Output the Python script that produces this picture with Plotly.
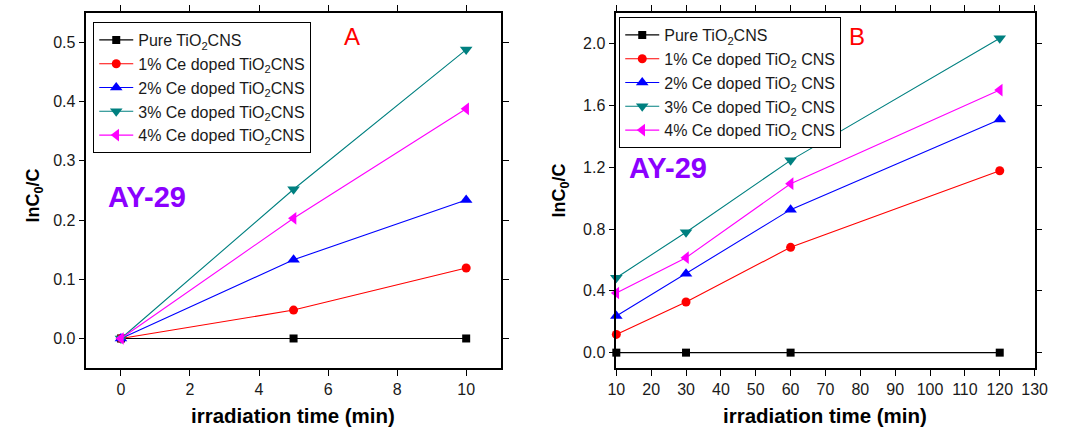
import plotly.graph_objects as go

# Panel A data
tA = [0, 5, 10]
A_pure = [0, 0, 0]
A_1 = [0, 0.048, 0.119]
A_2 = [0, 0.133, 0.234]
A_3 = [0, 0.252, 0.488]
A_4 = [0, 0.203, 0.388]

# Panel B data
tB = [10, 30, 60, 120]
B_pure = [0, 0, 0, 0]
B_1 = [0.118, 0.328, 0.682, 1.178]
B_2 = [0.237, 0.511, 0.926, 1.51]
B_3 = [0.485, 0.78, 1.245, 2.036]
B_4 = [0.386, 0.615, 1.094, 1.70]

namesA = ["Pure TiO<sub>2</sub>CNS", "1% Ce doped TiO<sub>2</sub>CNS", "2% Ce doped TiO<sub>2</sub>CNS",
          "3% Ce doped TiO<sub>2</sub>CNS", "4% Ce doped TiO<sub>2</sub>CNS"]
namesB = ["Pure TiO<sub>2</sub>CNS", "1% Ce doped TiO<sub>2</sub> CNS", "2% Ce doped TiO<sub>2</sub> CNS",
          "3% Ce doped TiO<sub>2</sub> CNS", "4% Ce doped TiO<sub>2</sub> CNS"]
colors = ["#000000", "#FF0000", "#0000FF", "#008080", "#FF00FF"]
symbols = ["square", "circle", "triangle-up", "triangle-down", "triangle-left"]
msizes = [8, 9, 11, 11, 11]

FONT = "Liberation Sans, Arial, sans-serif"
fig = go.Figure()

for name, ys, c, s, ms in zip(namesA, [A_pure, A_1, A_2, A_3, A_4], colors, symbols, msizes):
    fig.add_trace(go.Scatter(x=tA, y=ys, mode="lines+markers", name=name,
                             line=dict(color=c, width=1.1),
                             marker=dict(symbol=s, size=ms, color=c),
                             xaxis="x", yaxis="y", legend="legend", cliponaxis=False))
for name, ys, c, s, ms in zip(namesB, [B_pure, B_1, B_2, B_3, B_4], colors, symbols, msizes):
    fig.add_trace(go.Scatter(x=tB, y=ys, mode="lines+markers", name=name,
                             line=dict(color=c, width=1.1),
                             marker=dict(symbol=s, size=ms, color=c),
                             xaxis="x2", yaxis="y2", legend="legend2", cliponaxis=False))

axis_common = dict(showline=True, linecolor="black", linewidth=1.6, mirror="ticks",
                   ticks="outside", ticklen=6, tickwidth=1.3, tickcolor="black", showgrid=False,
                   zeroline=False, tickfont=dict(family=FONT, size=16, color="#1a1a1a"))
ydom = [0.142, 0.97]
legend_common = dict(xanchor="left", yanchor="top", bordercolor="black", borderwidth=1,
                     bgcolor="white", font=dict(size=16, family=FONT, color="#1a1a1a"),
                     tracegroupgap=0, itemwidth=34)
fig.update_layout(
    width=1074, height=429, margin=dict(l=0, r=0, t=0, b=0),
    plot_bgcolor="white", paper_bgcolor="white",
    font=dict(family=FONT, color="black"),
    xaxis=dict(domain=[0.0736, 0.4674], range=[-1, 11], tickvals=[0, 2, 4, 6, 8, 10], anchor="y",
               **axis_common),
    yaxis=dict(domain=ydom, range=[-0.05, 0.55], tickvals=[0, 0.1, 0.2, 0.3, 0.4, 0.5], tickformat=".1f",
               anchor="x", **axis_common),
    xaxis2=dict(domain=[0.5773, 0.9749], range=[10, 130], tickvals=list(range(10, 131, 10)), anchor="y2",
                **axis_common),
    yaxis2=dict(domain=ydom, range=[-0.1, 2.2], tickvals=[0, 0.4, 0.8, 1.2, 1.6, 2.0], tickformat=".1f",
                anchor="x2", **axis_common),
    legend=dict(x=86 / 1074, y=1 - 22 / 429, **legend_common),
    legend2=dict(x=623 / 1074, y=1 - 17 / 429, **legend_common),
)

annots = [
    dict(text="A", px=350, py=36, size=24, color="#FF0000", bold=False, angle=0),
    dict(text="B", px=866, py=36, size=24, color="#FF0000", bold=False, angle=0),
    dict(text="AY-29", px=141, py=197, size=29, color="#8B00FF", bold=True, angle=0),
    dict(text="AY-29", px=673, py=168, size=29, color="#8B00FF", bold=True, angle=0),
    dict(text="irradiation time (min)", px=290, py=415, size=20.5, color="black", bold=True, angle=0),
    dict(text="irradiation time (min)", px=833, py=415, size=20.5, color="black", bold=True, angle=0),
    dict(text="lnC<sub>0</sub>/C", px=26, py=195, size=18, color="black", bold=True, angle=-90),
    dict(text="lnC<sub>0</sub>/C", px=563, py=190, size=18, color="black", bold=True, angle=-90),
]
for a in annots:
    txt = f"<b>{a['text']}</b>" if a["bold"] else a["text"]
    fig.add_annotation(text=txt, x=a["px"] / 1074, y=1 - a["py"] / 429, xref="paper", yref="paper",
                       showarrow=False, textangle=a["angle"], xanchor="center", yanchor="middle",
                       font=dict(size=a["size"], color=a["color"], family=FONT))

fig.write_html("out.html")
